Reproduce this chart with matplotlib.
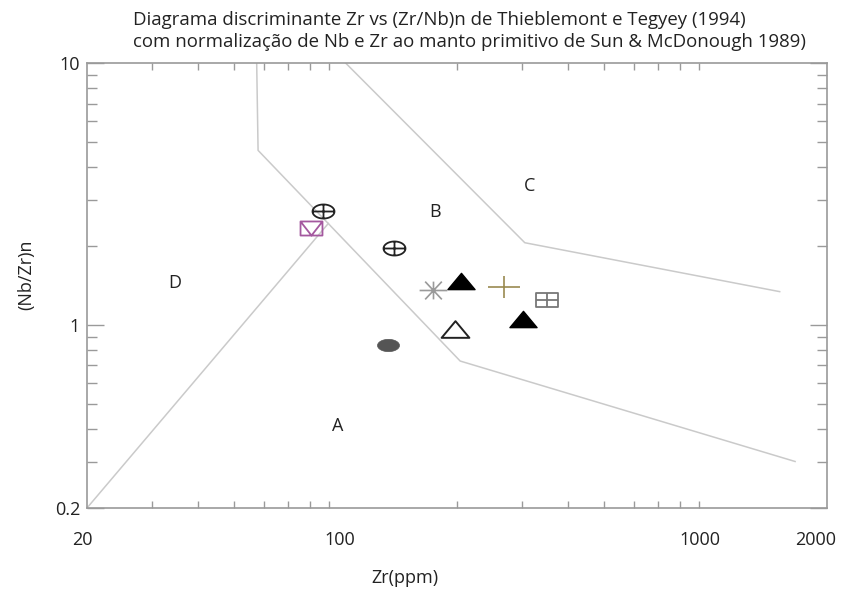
import matplotlib
matplotlib.use("Agg")
import matplotlib.pyplot as plt
import matplotlib.transforms as mtransforms
import numpy as np
from matplotlib.path import Path

plt.rcParams["font.family"] = ["Open Sans", "DejaVu Sans"]

# boundary lines of the Thieblemont & Tegyey (1994) diagram
bnd_ab_zr = [57.5, 58, 204, 1640]
bnd_ab_nb = [10, 4.64, 0.728, 0.301]
bnd_bc_zr = [100, 305, 1490]
bnd_bc_nb = [10, 2.06, 1.34]
bnd_ad_zr = [20, 89.8]
bnd_ad_nb = [0.2, 2.44]

# samples
zr = [87, 80.6, 135, 172, 205, 268, 351, 301, 198, 130.5]
nbzr = [2.72, 2.34, 1.97, 1.36, 1.47, 1.40, 1.25, 1.05, 0.963, 0.84]

# field labels
fields = ["A", "B", "C", "D"]
field_zr = [95, 175, 315, 34.6]
field_nb = [0.41, 2.69, 3.38, 1.44]

xtick_vals = [20, 100, 1000, 2000]
xtick_text = ["20", "100", "1000", "2000"]
xtick_shift = [-3, -4.5, -11, -8.5]   # points, labels sit a bit left of their ticks


def ellipse(a, b, n=64):
    t = np.linspace(0, 2 * np.pi, n)
    v = np.c_[a * np.cos(t), b * np.sin(t)]
    c = [Path.MOVETO] + [Path.LINETO] * (n - 2) + [Path.CLOSEPOLY]
    return v, c


def compound(parts):
    verts, codes = [], []
    for v, c in parts:
        verts.append(np.asarray(v, float)); codes += c
    return Path(np.vstack(verts), codes)


def seg(p, q):
    return [p, q], [Path.MOVETO, Path.LINETO]


def poly(pts):
    return list(pts) + [pts[0]], [Path.MOVETO] + [Path.LINETO] * (len(pts) - 1) + [Path.CLOSEPOLY]


b = 0.64
m_oplus = compound([ellipse(1, b), seg((-1, 0), (1, 0)), seg((0, -b), (0, b))])
m_env = compound([poly([(-1, -b), (1, -b), (1, b), (-1, b)]),
                  ([(-1, b), (0, -b), (1, b)], [Path.MOVETO, Path.LINETO, Path.LINETO])])
m_box = compound([poly([(-1, -b), (1, -b), (1, b), (-1, b)]), seg((-1, 0), (1, 0)), seg((0, -b), (0, b))])
m_star = compound([seg((-1, 0), (1, 0)), seg((0, -b), (0, b)),
                   seg((-0.6, -b), (0.6, b)), seg((-0.6, b), (0.6, -b))])
m_tri = compound([poly([(-1, -0.6), (1, -0.6), (0, 0.6)])])
m_plus = compound([seg((-1, 0), (1, 0)), seg((0, -0.69), (0, 0.69))])
m_ell = compound([ellipse(1, 0.56)])

# marker, size, face, edge, edge width for each sample
styles = [
    (m_oplus, 15.8, "none", "#222222", 1.3),
    (m_env, 15.8, "none", "#a4589f", 1.3),
    (m_oplus, 15.8, "none", "#222222", 1.3),
    (m_star, 20, "none", "#9a9a9a", 1.2),
    (m_tri, 19.5, "black", "black", 1.0),
    (m_plus, 23, "none", "#9a8a50", 1.2),
    (m_box, 16.5, "none", "#777777", 1.3),
    (m_tri, 19.5, "black", "black", 1.0),
    (m_tri, 20, "white", "#222222", 1.4),
    (m_ell, 15.8, "#555555", "#555555", 0.5),
]

fig = plt.figure(figsize=(8.43, 5.94), dpi=100)
ax = fig.add_axes([0.1032, 0.1448, 0.8778, 0.7491])
ax.set_xscale("log"); ax.set_yscale("log")
ax.set_xlim(20, 2000); ax.set_ylim(0.2, 10)

lc = "#cacaca"
for xs, ys in ((bnd_ab_zr, bnd_ab_nb), (bnd_bc_zr, bnd_bc_nb), (bnd_ad_zr, bnd_ad_nb)):
    ax.plot(xs, ys, color=lc, lw=1.1, zorder=1)

for x, y, (mk, ms, fc, ec, mew) in zip(zr, nbzr, styles):
    ax.plot(x, y, marker=mk, ms=ms, mfc=fc, mec=ec, mew=mew, ls="none", zorder=3)

for t, x, y in zip(fields, field_zr, field_nb):
    ax.text(x, y, t, ha="center", va="center", fontsize=13, color="#222222")

# axes styling
sc = "#9a9a9a"
tc = "#222222"
for s in ax.spines.values():
    s.set_color(sc); s.set_linewidth(1.2)
ax.xaxis.set_major_locator(matplotlib.ticker.FixedLocator(xtick_vals))
ax.xaxis.set_minor_locator(matplotlib.ticker.FixedLocator(
    [30, 40, 50, 60, 70, 80, 90, 200, 300, 400, 500, 600, 700, 800, 900]))
ax.xaxis.set_major_formatter(matplotlib.ticker.NullFormatter())
ax.xaxis.set_minor_formatter(matplotlib.ticker.NullFormatter())
ax.yaxis.set_major_locator(matplotlib.ticker.FixedLocator([0.2, 1, 10]))
ax.yaxis.set_minor_locator(matplotlib.ticker.FixedLocator(
    [0.3, 0.4, 0.5, 0.6, 0.7, 0.8, 0.9, 2, 3, 4, 5, 6, 7, 8, 9]))
ax.yaxis.set_major_formatter(matplotlib.ticker.FixedFormatter(["0.2", "1", "10"]))
ax.yaxis.set_minor_formatter(matplotlib.ticker.NullFormatter())
ax.tick_params(which="both", direction="in", color=sc, width=1.0,
               top=True, right=True, labelsize=13, labelcolor=tc)
ax.tick_params(axis="x", which="major", length=0)
ax.tick_params(axis="x", which="minor", length=5)
ax.tick_params(axis="y", which="major", length=12, pad=5)
ax.tick_params(axis="y", which="minor", length=7)

# x tick labels placed by hand, slightly left of their ticks as in the original
xt = ax.get_xaxis_transform()
for v, s, dx in zip(xtick_vals, xtick_text, xtick_shift):
    off = mtransforms.ScaledTranslation(dx / 72, 0, fig.dpi_scale_trans)
    ax.text(v, -0.072, s, transform=xt + off, ha="center", va="center",
            fontsize=13, color=tc, clip_on=False)

ax.set_xlabel("Zr(ppm)", fontsize=13, color=tc)
ax.xaxis.set_label_coords(0.43, -0.137)
ax.set_ylabel("(Nb/Zr)n", fontsize=13, color=tc)
ax.yaxis.set_label_coords(-0.07, 0.524)

fig.text(0.158, 0.967, "Diagrama discriminante Zr vs (Zr/Nb)n de Thieblemont e Tegyey (1994)",
         fontsize=13.4, color=tc, va="center")
fig.text(0.158, 0.930, "com normalização de Nb e Zr ao manto primitivo de Sun & McDonough 1989)",
         fontsize=13.4, color=tc, va="center")

fig.savefig("out.png", dpi=100, facecolor="white")
